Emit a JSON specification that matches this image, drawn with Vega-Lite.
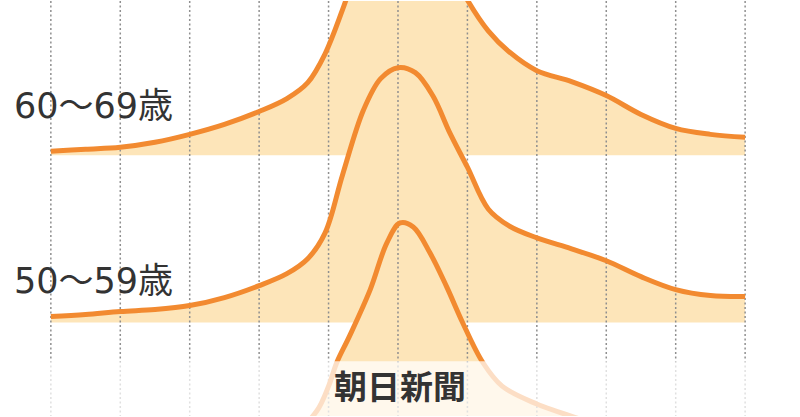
{
  "$schema": "https://vega.github.io/schema/vega-lite/v6.json",
  "width": 800,
  "height": 417,
  "autosize": {"type": "fit", "contains": "padding"},
  "padding": 0,
  "background": "white",
  "config": {"view": {"stroke": null}},
  "datasets": {
    "ridges": [
      {"age": "60～69歳", "x": 0, "v": 266, "base": 262},
      {"age": "60～69歳", "x": 0.5, "v": 268, "base": 262},
      {"age": "60～69歳", "x": 1, "v": 270, "base": 262},
      {"age": "60～69歳", "x": 1.5, "v": 275, "base": 262},
      {"age": "60～69歳", "x": 2, "v": 283, "base": 262},
      {"age": "60～69歳", "x": 2.5, "v": 293, "base": 262},
      {"age": "60～69歳", "x": 3, "v": 306, "base": 262},
      {"age": "60～69歳", "x": 3.4, "v": 319, "base": 262},
      {"age": "60～69歳", "x": 3.7, "v": 335, "base": 262},
      {"age": "60～69歳", "x": 3.95, "v": 364, "base": 262},
      {"age": "60～69歳", "x": 4.2, "v": 408, "base": 262},
      {"age": "60～69歳", "x": 4.5, "v": 468, "base": 262},
      {"age": "60～69歳", "x": 4.75, "v": 505, "base": 262},
      {"age": "60～69歳", "x": 5, "v": 518, "base": 262},
      {"age": "60～69歳", "x": 5.25, "v": 513, "base": 262},
      {"age": "60～69歳", "x": 5.5, "v": 490, "base": 262},
      {"age": "60～69歳", "x": 5.75, "v": 452, "base": 262},
      {"age": "60～69歳", "x": 6, "v": 418, "base": 262},
      {"age": "60～69歳", "x": 6.3, "v": 387, "base": 262},
      {"age": "60～69歳", "x": 6.6, "v": 366, "base": 262},
      {"age": "60～69歳", "x": 7, "v": 347, "base": 262},
      {"age": "60～69歳", "x": 7.5, "v": 336, "base": 262},
      {"age": "60～69歳", "x": 8, "v": 322, "base": 262},
      {"age": "60～69歳", "x": 8.5, "v": 303, "base": 262},
      {"age": "60～69歳", "x": 9, "v": 289, "base": 262},
      {"age": "60～69歳", "x": 9.5, "v": 283, "base": 262},
      {"age": "60～69歳", "x": 10, "v": 280, "base": 262},
      {"age": "50～59歳", "x": 0, "v": 100, "base": 94},
      {"age": "50～59歳", "x": 0.5, "v": 102, "base": 94},
      {"age": "50～59歳", "x": 1, "v": 105, "base": 94},
      {"age": "50～59歳", "x": 1.5, "v": 107, "base": 94},
      {"age": "50～59歳", "x": 2, "v": 111, "base": 94},
      {"age": "50～59歳", "x": 2.5, "v": 119, "base": 94},
      {"age": "50～59歳", "x": 3, "v": 131, "base": 94},
      {"age": "50～59歳", "x": 3.4, "v": 143, "base": 94},
      {"age": "50～59歳", "x": 3.7, "v": 158, "base": 94},
      {"age": "50～59歳", "x": 3.95, "v": 184, "base": 94},
      {"age": "50～59歳", "x": 4.2, "v": 242, "base": 94},
      {"age": "50～59歳", "x": 4.5, "v": 307, "base": 94},
      {"age": "50～59歳", "x": 4.75, "v": 339, "base": 94},
      {"age": "50～59歳", "x": 5, "v": 350, "base": 94},
      {"age": "50～59歳", "x": 5.25, "v": 345, "base": 94},
      {"age": "50～59歳", "x": 5.5, "v": 322, "base": 94},
      {"age": "50～59歳", "x": 5.75, "v": 284, "base": 94},
      {"age": "50～59歳", "x": 6, "v": 250, "base": 94},
      {"age": "50～59歳", "x": 6.3, "v": 208, "base": 94},
      {"age": "50～59歳", "x": 6.6, "v": 191, "base": 94},
      {"age": "50～59歳", "x": 7, "v": 179, "base": 94},
      {"age": "50～59歳", "x": 7.5, "v": 168, "base": 94},
      {"age": "50～59歳", "x": 8, "v": 156, "base": 94},
      {"age": "50～59歳", "x": 8.5, "v": 140, "base": 94},
      {"age": "50～59歳", "x": 9, "v": 127, "base": 94},
      {"age": "50～59歳", "x": 9.5, "v": 121, "base": 94},
      {"age": "50～59歳", "x": 10, "v": 120, "base": 94},
      {"age": "40～49歳", "x": 0, "v": -68, "base": -74},
      {"age": "40～49歳", "x": 1, "v": -63, "base": -74},
      {"age": "40～49歳", "x": 2, "v": -57, "base": -74},
      {"age": "40～49歳", "x": 3, "v": -36, "base": -74},
      {"age": "40～49歳", "x": 3.5, "v": -18, "base": -74},
      {"age": "40～49歳", "x": 3.83, "v": 5, "base": -74},
      {"age": "40～49歳", "x": 4, "v": 30, "base": -74},
      {"age": "40～49歳", "x": 4.12, "v": 54, "base": -74},
      {"age": "40～49歳", "x": 4.3, "v": 80, "base": -74},
      {"age": "40～49歳", "x": 4.6, "v": 127, "base": -74},
      {"age": "40～49歳", "x": 4.84, "v": 174, "base": -74},
      {"age": "40～49歳", "x": 5.03, "v": 194, "base": -74},
      {"age": "40～49歳", "x": 5.22, "v": 190, "base": -74},
      {"age": "40～49歳", "x": 5.46, "v": 164, "base": -74},
      {"age": "40～49歳", "x": 5.7, "v": 130, "base": -74},
      {"age": "40～49歳", "x": 5.93, "v": 94, "base": -74},
      {"age": "40～49歳", "x": 6.22, "v": 54, "base": -74},
      {"age": "40～49歳", "x": 6.5, "v": 30, "base": -74},
      {"age": "40～49歳", "x": 7, "v": 12, "base": -74},
      {"age": "40～49歳", "x": 8, "v": -12, "base": -74},
      {"age": "40～49歳", "x": 9, "v": -40, "base": -74},
      {"age": "40～49歳", "x": 10, "v": -48, "base": -74}
    ],
    "grid": [
      {"x": 0}, {"x": 1}, {"x": 2}, {"x": 3}, {"x": 4}, {"x": 5},
      {"x": 6}, {"x": 7}, {"x": 8}, {"x": 9}, {"x": 10}
    ],
    "labels": [
      {"label": "60～69歳", "x": -0.53, "v": 299},
      {"label": "50～59歳", "x": -0.53, "v": 124}
    ],
    "veil": [{"x": -0.72, "x2": 10.78, "v": 0, "v2": 55}],
    "brand": [{"label": "朝日新聞", "x": 5.03, "v": 27}]
  },
  "layer": [
    {
      "data": {"name": "ridges"},
      "mark": {"type": "area", "interpolate": "catmull-rom", "color": "#FDE5B9", "opacity": 1, "clip": true},
      "encoding": {
        "x": {"field": "x", "type": "quantitative", "scale": {"domain": [-0.718, 10.776], "nice": false, "zero": false}, "axis": null},
        "y": {"field": "v", "type": "quantitative", "scale": {"domain": [0, 417], "nice": false, "zero": false}, "axis": null},
        "y2": {"field": "base"},
        "detail": {"field": "age"}
      }
    },
    {
      "data": {"name": "grid"},
      "mark": {"type": "rule", "color": "#8f8f8f", "strokeWidth": 1.5, "strokeDash": [2, 2.5]},
      "encoding": {
        "x": {"field": "x", "type": "quantitative", "scale": {"domain": [-0.718, 10.776], "nice": false, "zero": false}, "axis": null}
      }
    },
    {
      "data": {"name": "ridges"},
      "mark": {"type": "line", "interpolate": "catmull-rom", "color": "#F28A30", "strokeWidth": 5, "clip": true},
      "encoding": {
        "x": {"field": "x", "type": "quantitative", "scale": {"domain": [-0.718, 10.776], "nice": false, "zero": false}, "axis": null},
        "y": {"field": "v", "type": "quantitative", "scale": {"domain": [0, 417], "nice": false, "zero": false}, "axis": null},
        "detail": {"field": "age"}
      }
    },
    {
      "data": {"name": "veil"},
      "mark": {"type": "rect", "color": "white", "opacity": 0.72},
      "encoding": {
        "x": {"field": "x", "type": "quantitative", "scale": {"domain": [-0.718, 10.776], "nice": false, "zero": false}, "axis": null},
        "x2": {"field": "x2"},
        "y": {"field": "v", "type": "quantitative", "scale": {"domain": [0, 417], "nice": false, "zero": false}, "axis": null},
        "y2": {"field": "v2"}
      }
    },
    {
      "data": {"name": "labels"},
      "mark": {"type": "text", "align": "left", "baseline": "alphabetic", "fontSize": 35, "font": "DejaVu Sans, Noto Sans CJK JP, sans-serif", "color": "#333333"},
      "encoding": {
        "x": {"field": "x", "type": "quantitative", "scale": {"domain": [-0.718, 10.776], "nice": false, "zero": false}, "axis": null},
        "y": {"field": "v", "type": "quantitative", "scale": {"domain": [0, 417], "nice": false, "zero": false}, "axis": null},
        "text": {"field": "label"}
      }
    },
    {
      "data": {"name": "brand"},
      "mark": {"type": "text", "align": "center", "baseline": "middle", "fontSize": 33, "fontWeight": "bold", "font": "Noto Sans CJK JP, sans-serif", "color": "#333333"},
      "encoding": {
        "x": {"field": "x", "type": "quantitative", "scale": {"domain": [-0.718, 10.776], "nice": false, "zero": false}, "axis": null},
        "y": {"field": "v", "type": "quantitative", "scale": {"domain": [0, 417], "nice": false, "zero": false}, "axis": null},
        "text": {"field": "label"}
      }
    }
  ]
}
